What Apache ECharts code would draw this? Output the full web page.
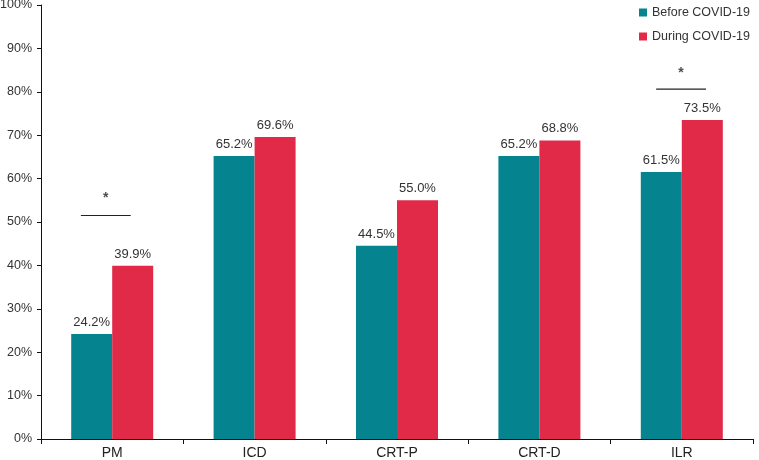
<!DOCTYPE html>
<html>
<head>
<meta charset="utf-8">
<script src="https://cdn.jsdelivr.net/npm/echarts@6/dist/echarts.min.js"></script>
<style>
  html, body { margin: 0; padding: 0; background: #fff; }
  #chart { width: 759px; height: 460px; }
</style>
</head>
<body>
<div id="chart"></div>
<script>
const categories = ['PM', 'ICD', 'CRT-P', 'CRT-D', 'ILR']
const beforeData = [24.2, 65.2, 44.5, 65.2, 61.5]
const duringData = [39.9, 69.6, 55.0, 68.8, 73.5]
const seriesNames = ['Before COVID-19', 'During COVID-19']
// significance brackets: [start, end] in category units, height in %
const pmBracket = [[0.28, 51.5], [0.63, 51.5]]
const ilrBracket = [[4.32, 80.6], [4.67, 80.6]]
const stars = [[0.455, 55.5], [4.495, 84.4]]

const font = '"Liberation Sans", Arial, sans-serif'
const teal = '#05848f'
const red = '#e02a48'

const chart = echarts.init(document.getElementById('chart'))

const barLabel = {
  show: true,
  position: 'top',
  distance: 5,
  color: '#333',
  fontSize: 13,
  fontFamily: font,
  formatter: p => p.value.toFixed(1) + '%'
}

const option = {
  animation: false,
  grid: { left: 41, right: 6, top: 5, bottom: 21, containLabel: false, outerBoundsMode: 'none' },
  legend: {
    orient: 'vertical',
    left: 634,
    top: 1,
    itemWidth: 8,
    itemHeight: 8,
    itemGap: 11,
    itemTextGap: 6,
    icon: 'rect',
    data: seriesNames,
    textStyle: { color: '#333', fontSize: 12.5, fontFamily: font }
  },
  xAxis: [
    {
      type: 'category',
      data: categories,
      axisLine: { lineStyle: { color: '#111', width: 1 } },
      axisTick: { show: true, length: 5, lineStyle: { color: '#111' } },
      axisLabel: { color: '#222', fontSize: 14, fontFamily: font, margin: 7 }
    },
    {
      type: 'value',
      min: 0,
      max: 5,
      show: false
    }
  ],
  yAxis: {
    type: 'value',
    min: 0,
    max: 100,
    interval: 10,
    axisLine: { show: true, lineStyle: { color: '#111', width: 1 } },
    axisTick: { show: true, length: 4, lineStyle: { color: '#111' } },
    axisLabel: { color: '#333', fontSize: 12.5, fontFamily: font, margin: 9, formatter: '{value}%' },
    splitLine: { show: false }
  },
  series: [
    {
      name: seriesNames[0],
      type: 'bar',
      data: beforeData,
      barWidth: 41,
      barGap: 0,
      itemStyle: { color: teal },
      label: barLabel
    },
    {
      name: seriesNames[1],
      type: 'bar',
      data: duringData,
      barWidth: 41,
      barGap: 0,
      itemStyle: { color: red },
      label: barLabel
    },
    {
      type: 'line',
      xAxisIndex: 1,
      data: pmBracket,
      symbol: 'none',
      lineStyle: { color: '#222', width: 1.2 },
      silent: true
    },
    {
      type: 'line',
      xAxisIndex: 1,
      data: ilrBracket,
      symbol: 'none',
      lineStyle: { color: '#222', width: 1.2 },
      silent: true
    },
    {
      type: 'scatter',
      xAxisIndex: 1,
      data: stars,
      symbolSize: 0,
      silent: true,
      label: {
        show: true,
        position: 'inside',
        formatter: '*',
        color: '#222',
        fontSize: 14,
        fontWeight: 'bold',
        fontFamily: font
      }
    }
  ]
}

chart.setOption(option)
</script>
</body>
</html>
